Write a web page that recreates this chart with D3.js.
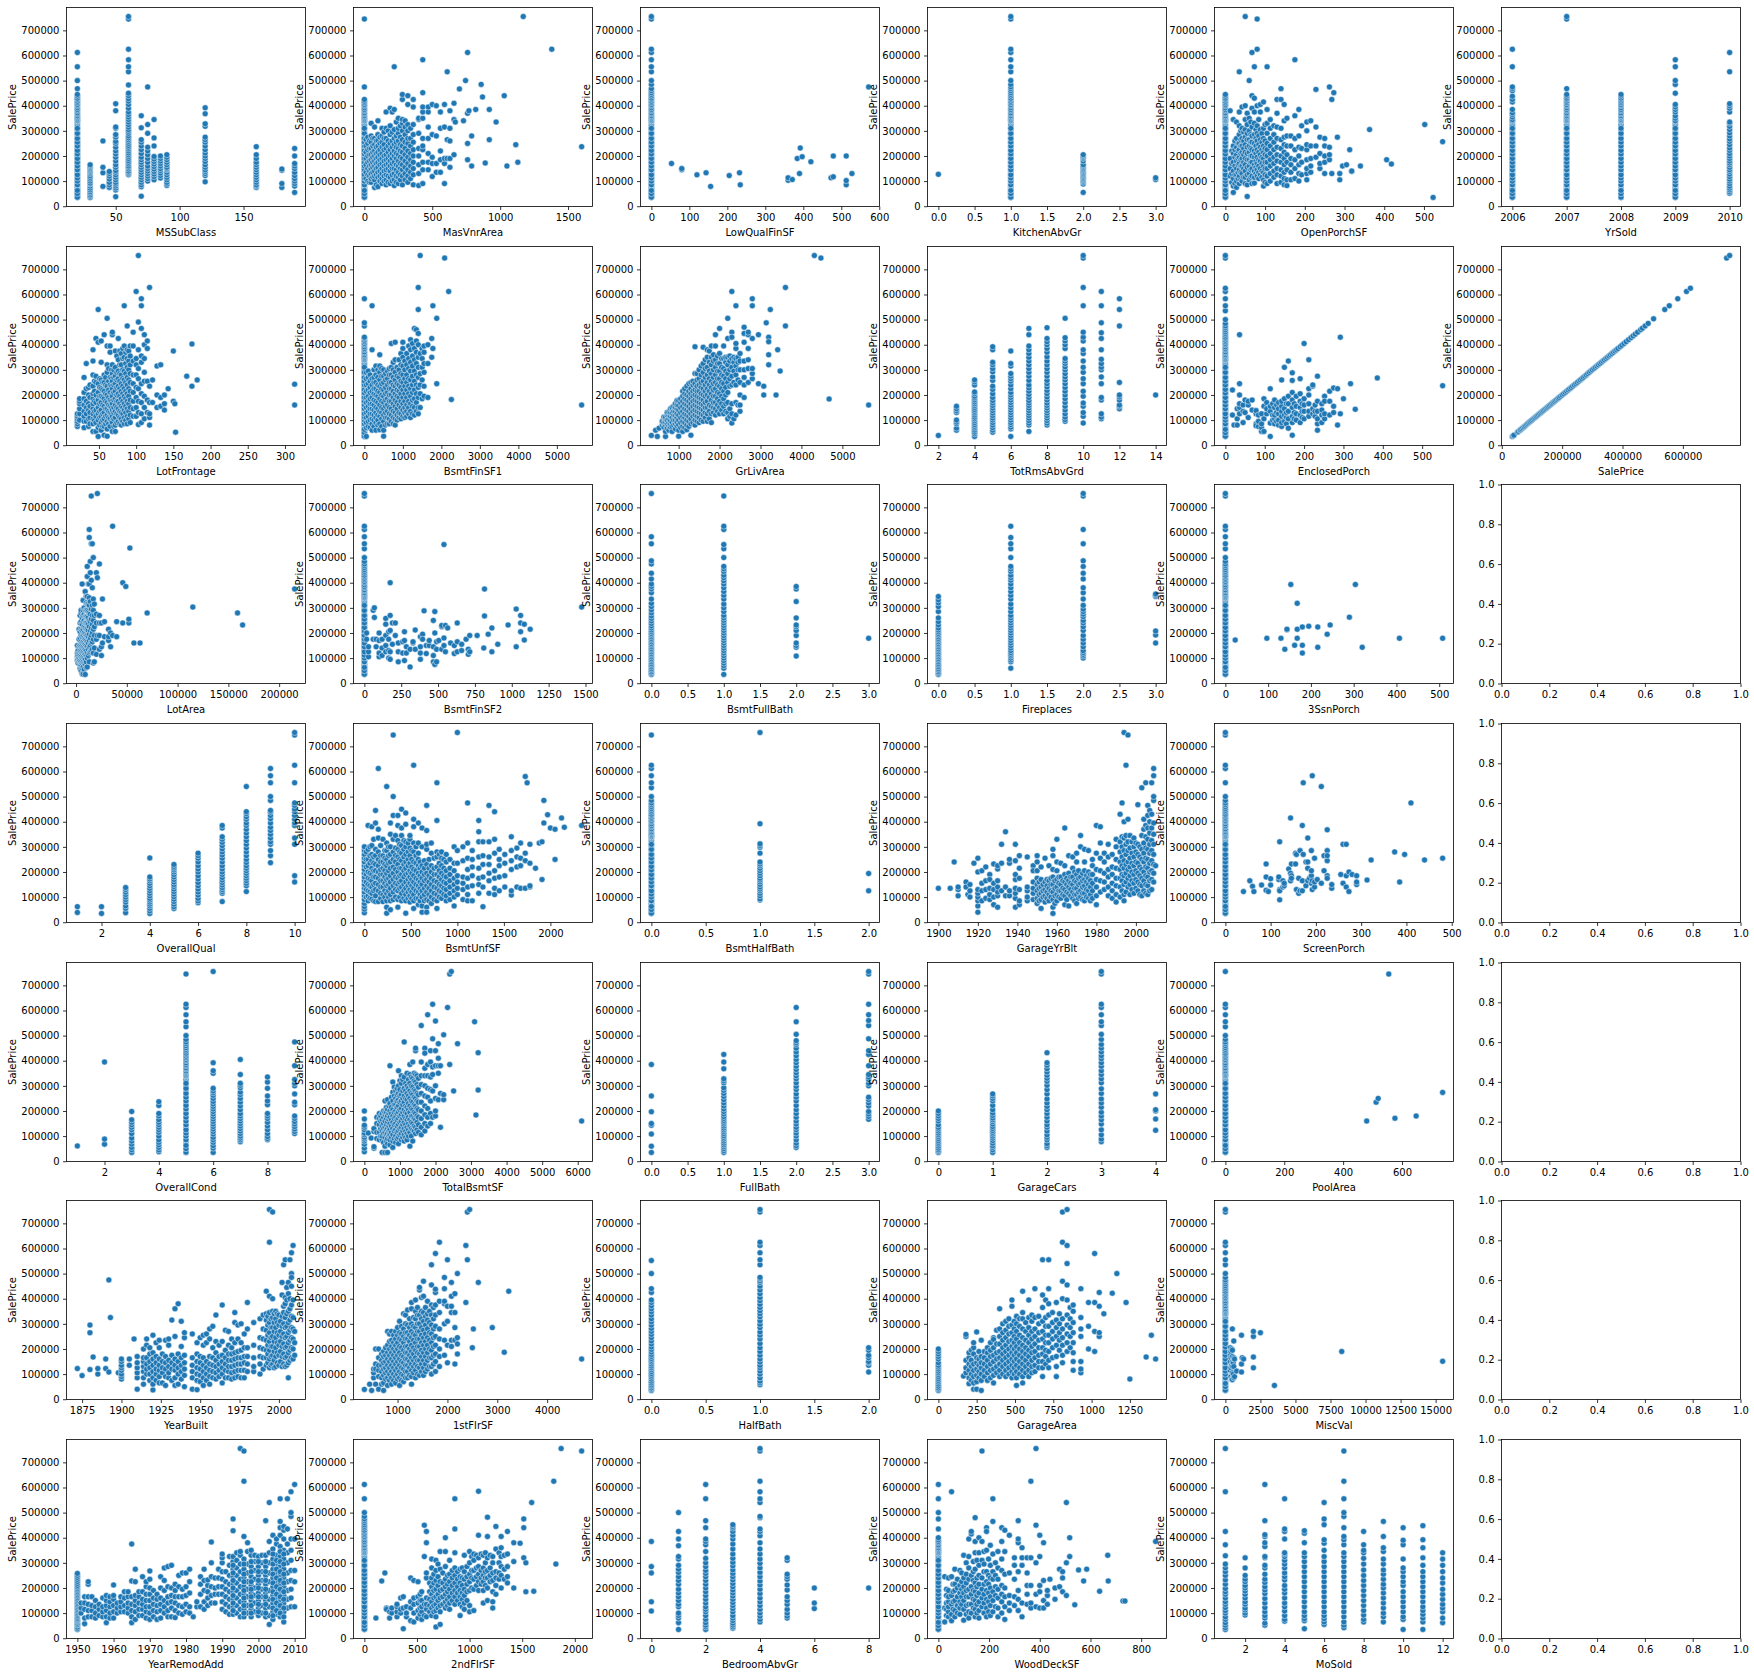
<!DOCTYPE html>
<html><head><meta charset="utf-8">
<script src="https://cdn.jsdelivr.net/npm/d3@7"></script>
<style>html,body{margin:0;background:#fff}svg{display:block}text{font-family:"DejaVu Sans",sans-serif;font-size:10px;fill:#000}</style>
</head><body><script>
// All SalePrice values are in thousands; each row is [x, price, price, ...]
const S=[35,38,44,52,55,60,66,70,74,78,84,90,96,102,108,114,120,126,132,138,144,150,156,162,168,174,180,186,192,198,204,210,218,226,234,242,250,258,266,275,285,295,305,315,325,335,340,36,50,63,85,100,112,125,145,160,175,190,208,222,240,255,270,290,310,340];
const T=[345,350,355,360,367,372,380,385,392,400,405,412,418,425,430,438,445,452,460,468,475,485,500];
const TOP=[535,555,583,612,625,745,755];

const MSSubClass=[[20,...S,...T.slice(0,17),468,500,555,612],[30,35,40,45,52,58,65,72,80,88,92,100,108,115,122,130,135,140,145,150,155,160,165],[40,79,133,155,260],[45,75,85,95,108,120,130,138],[50,38,65,72,80,88,95,105,115,125,135,142,155,165,180,195,208,220,235,250,258,275,285,310,315,380,408],[60,125,130,135,140,148,155,160,168,175,182,190,198,205,212,220,228,235,242,250,258,265,272,280,290,298,305,315,325,335,345,355,365,375,390,405,418,428,440,450,483,535,555,583,625,745,755],[70,40,78,85,95,105,115,125,135,145,155,165,175,185,195,210,225,240,255,265,312,360],[75,100,110,120,130,140,150,160,175,190,205,220,235,290,325,475],[80,105,118,128,138,148,158,168,178,188,198,240,272,345],[85,112,122,132,142,150,160,170,180,190,200],[90,82,88,95,105,115,125,135,145,150,155,165,175,185,195,205],[120,97,122,130,138,145,155,165,178,190,200,212,225,240,255,265,275,318,328,368,392],[160,75,80,85,95,105,115,125,135,145,155,165,175,190,205,237],[180,75,90,143,148],[190,55,80,90,100,110,122,135,150,160,170,200,230]];
const MasVnrArea=[[0,...S,...T.slice(0,14),475,745],[12,110,135,165,190,215,240,265],[25,100,125,150,175,200,225,250,275],[38,95,120,140,160,180,205,230,260],[50,95,110,130,150,165,185,205,230,255,280,330],[62,115,135,155,175,195,215,240,270],[75,75,105,120,140,160,180,200,220,245,270,315],[88,85,125,150,170,190,210,235,260],[100,78,115,135,155,175,195,215,240,262,285,340],[115,100,120,140,165,185,205,225,250,275],[130,90,110,130,150,170,190,210,235,255,280,310],[145,100,120,140,160,180,200,225,245,270,295],[160,85,105,125,145,165,185,205,230,270,310,375],[175,95,120,150,170,190,215,240,260,300],[190,90,115,140,160,180,200,225,250,285,320,390],[205,100,125,150,170,190,210,235,260,295,375],[220,82,105,130,150,175,200,220,245,270,305,385,555],[235,95,120,145,165,190,210,235,255,280,335],[250,90,115,135,160,180,205,230,260,290,310,350],[265,105,125,150,170,195,220,245,275,320],[280,85,120,145,165,190,215,240,265,300,330,345,425,445],[300,105,130,155,180,205,230,255,285,315,340],[320,95,120,145,170,195,220,250,270,300,325,405,440],[340,110,135,160,185,210,240,270,310],[360,85,125,150,175,200,225,255,285,325,395,425],[400,82,130,165,200,230,290,345,350],[430,90,145,175,225,240,270,350,375,395,452,583],[470,145,175,210,270,315,375,395],[500,118,170,195,285,405],[530,135,170,280,400],[560,135,185,220,310,375],[590,90,170,190,315,405],[610,190,265,535],[630,155,190,260,310,380],[660,205,345,410],[670,335],[700,467],[730,340],[745,500],[760,185,250,370,612],[770,380],[790,160,280],[820,385],[860,485],[870,435],[890,172],[920,265,385],[970,335],[1030,440],[1050,160],[1115,245],[1130,175],[1170,755],[1380,625],[1600,237]];
const LowQualFinSF=[[0,...S,...T.slice(0,20),485,500,...TOP],[53,170],[80,145,150],[120,125],[144,133],[156,79],[205,122],[232,133],[234,85],[360,103,113],[371,106],[384,190],[390,130],[392,232],[397,197],[420,177],[473,113],[479,117,200],[513,85,102,200],[528,130],[572,475]];
const KitchenAbvGr=[[0,127],[1,...S,...T,...TOP],[2,55,88,95,100,105,110,115,120,125,130,135,140,145,150,155,160,165,180,190,195,200,205],[3,106,113]];
const OpenPorchSF=[[0,...S,...T.slice(0,17)],[12,380,120,150,190],[16,95,130,170,220],[20,55,80,110,140,175,210,240,345],[24,90,125,160,195,225,260],[28,75,100,125,150,180,205,235,270,335],[32,110,135,165,190,220,250],[35,90,120,145,170,195,225,250,285,320,375,535],[39,105,135,160,185,210,240,265,300],[42,100,130,160,190,215,240,270,310,395],[46,115,150,175,205,230,260,295],[50,90,115,140,165,190,215,245,275,305,345,400,755],[55,39,85,125,155,185,210,235,265,290,325,370],[60,105,130,160,185,215,240,265,300,350,500],[64,115,145,175,200,230,255,285,335],[67,90,120,150,175,200,225,255,280,315,390,440,612],[73,92,115,140,165,195,220,250,285,330,375,430,555],[77,130,155,180,210,240,270,305],[80,120,145,170,195,225,260,290,320,400,625,745],[84,110,135,160,185,215,245,280,345],[88,125,150,180,205,235,265,305,375,405],[92,115,140,170,195,225,255,290],[96,80,105,135,160,190,215,240,270,310,415],[100,95,125,150,175,205,230,260,325],[105,90,120,150,175,200,225,250,290,330,385,555],[113,100,130,160,185,210,240,270,310,345],[122,115,140,170,195,225,255,285,320],[130,90,125,150,180,205,235,270,315,370,425],[140,95,120,145,175,200,230,265,310,468,425],[148,85,110,135,165,190,215,245,275,340,405],[155,82,105,145,175,205,240,280,350],[165,105,135,165,190,240,280],[175,110,150,185,225,270,360,583],[185,100,130,165,200,235,280,385],[192,125,175,230,320],[205,105,130,150,185,225,245,300,335],[215,135,160,190,240,340],[228,195,240,465,315],[238,150,170,210,275],[250,130,175,200,240,270],[262,185,205,235,475],[268,130,425],[273,452],[282,275],[288,105,130],[295,160],[305,165],[313,225],[318,138,140],[340,160],[363,305],[406,185],[418,168],[502,325],[523,35],[547,257]];
const YrSold=[[2006,...S,345,355,365,372,385,415,425,438,460,468,475,555,625],[2007,...S,...T.slice(0,17),468,745,755],[2008,...S,...T.slice(0,17)],[2009,...S,350,360,375,385,395,405,450,485,500,555,583],[2010,52,58,65,72,80,90,100,108,118,128,138,145,155,165,172,180,190,200,210,222,232,245,258,268,280,292,305,318,330,335,375,390,400,408,535,612]];
const LotFrontage=[[21,75,85,95,105,115,125],[24,100,125,145,165,175,185],[30,70,95,115,135,160,185,210,270],[33,95,125,150,175,225,325],[36,75,105,140,165,200,230],[38,85,110,130,155,190,240],[42,55,85,105,125,145,165,185,205,235,280,335,380],[44,100,135,175,215,255],[46,55,90,115,140,170,200,250,275,425],[49,35,70,100,125,150,180,210,245,540,410],[51,80,110,135,165,195,230,265],[53,60,90,115,140,170,195,225,260,330,415],[55,75,100,125,160,190,220,250],[57,40,75,105,130,155,185,215,250,280,440],[59,85,115,145,175,205,240,270],[61,36,65,95,120,145,170,200,235,290,320,395,505],[63,85,110,135,160,190,220,255,305],[65,75,105,130,155,180,210,240,270,370,395],[67,95,125,150,175,200,235,265,300],[68,55,90,115,140,165,195,225,255,285,320,440,450],[70,75,105,130,150,180,210,240,270,300],[72,55,80,110,135,160,185,215,245,275,310,375],[74,90,125,150,175,200,230,260,290,355],[76,95,120,145,175,205,235,265,295,340,425],[78,85,110,135,165,195,225,255,285,320,375],[80,80,105,130,155,185,215,245,280,320,365],[82,95,125,150,175,205,235,265,300,345,385],[84,85,110,140,165,195,225,260,295,350,395,555],[86,100,130,155,185,215,250,285,325,370],[88,85,115,145,175,205,240,270,310,345,380,475],[90,105,135,165,195,225,260,300,335,375],[92,90,120,150,180,215,250,285,320,355,395],[96,115,145,175,210,245,280,335,395,450],[100,115,150,190,230,280,320,345,612],[103,82,130,175,225,265,305,380,490,755],[107,90,125,170,205,245,330,355,555,583,465],[111,105,150,195,255,290,345,400,440],[115,130,180,255,385,415],[118,80,110,125,170,235,628],[122,170,260],[128,150,200,315],[133,155,190,320],[138,140,165,200],[143,225],[150,375,175],[152,165],[153,52],[168,275],[175,235,403],[182,260],[313,160,243]];
const BsmtFinSF1=[[0,...S,...T.slice(0,15),475,487,583],[50,35,70,90,110,130,150,170,190,215,240,265,290],[100,75,95,115,135,155,175,195,220,245,270,295],[150,70,100,125,145,165,185,210,230,255,280],[200,60,85,105,125,145,165,190,215,240,265,380,555],[250,75,100,120,140,160,180,205,225,250,270,300],[300,60,90,110,130,150,175,200,225,250,280,315],[350,80,100,120,145,170,195,215,240,270,300],[400,62,85,115,135,160,185,210,235,260,290,315,360],[450,75,105,130,150,175,200,225,245,275,305],[500,36,60,95,120,145,170,195,220,250,275,300],[550,80,110,130,155,180,205,230,260,285],[600,85,110,135,160,185,210,240,265,295],[650,85,105,125,150,175,200,225,250,280,305],[700,95,120,145,175,200,225,250,280,310,405],[750,85,110,135,165,190,215,240,270,300,330],[800,80,105,130,155,180,205,235,260,290,340,410],[850,100,120,145,170,195,220,245,275,310],[900,110,130,160,190,215,240,270,300,340],[950,105,125,150,175,205,230,255,285,320,365],[1000,115,140,165,190,220,250,280,315,350,385,410],[1050,110,130,150,175,205,235,265,300,335],[1100,115,135,160,190,220,250,280,320,365],[1150,125,150,175,205,235,265,305,345,395],[1200,110,135,165,195,225,260,295,330,380,420],[1250,125,155,180,210,240,275,315,355,405],[1300,120,150,185,220,255,295,340,385,465],[1350,135,170,205,240,280,325,370,415,460],[1400,125,150,190,230,270,310,350,400,445,540,628],[1450,150,205,240,285,365,755],[1500,185,260,310,345,385],[1550,195,235,290,325,370,395],[1650,190,325,400],[1750,350,425],[1780,385,555],[1880,245,505],[2085,745],[2190,612],[2260,182],[5644,160]];
const GrLivArea=[[334,39],[438,60],[480,35],[520,68],[600,80,95],[640,72,90,112],[680,35,55,80,92,105,112],[720,68,85,100,120,130],[760,60,78,90,105,120,132],[800,72,85,98,115,130,145],[840,55,75,92,110,128,145,150],[880,80,100,120,135,155],[920,65,85,100,118,135,150,165],[960,78,92,110,125,145,160,178],[1000,36,60,82,100,120,140,158,178],[1050,70,90,110,130,150,170,185],[1100,55,75,95,115,135,155,175,195,215],[1150,70,90,110,125,145,165,185,205,225],[1200,62,80,100,120,140,160,180,200,235],[1250,75,95,115,135,155,175,195,215,245],[1300,40,85,105,125,145,165,185,205,225,250],[1350,90,115,135,155,175,195,215,240,255],[1400,80,100,120,140,160,180,200,220,245,285,392],[1450,95,115,135,155,175,195,215,235,260,285],[1500,90,110,130,150,170,190,215,240,265,300],[1550,100,125,145,165,185,205,230,250,280,315],[1600,95,120,140,160,180,200,225,255,290,325,390],[1650,110,130,150,170,195,215,240,270,305,340],[1700,95,125,150,175,200,225,250,280,310,350,380],[1750,105,135,160,190,215,240,265,295,330,375],[1800,90,125,155,180,205,230,255,285,320,350,395],[1850,130,150,170,195,220,245,270,300,335,360],[1900,120,145,170,195,225,250,280,310,340,395,440],[1950,135,160,185,210,240,265,295,325,355],[2000,125,150,175,205,235,265,295,325,365,465],[2050,140,165,195,225,250,280,310,345],[2100,125,155,185,215,245,275,305,345,395],[2150,135,165,200,230,265,295,330,350],[2200,105,130,170,210,250,285,320,350,425,505],[2250,115,145,235,265,300,335,355],[2300,88,125,165,240,275,310,345,450,430,612],[2350,105,250,295,330,350],[2400,120,170,240,280,315,345,385,405,555],[2450,160,260,300,330,350],[2500,135,160,200,250,300,335,365],[2600,190,240,270,300,335,445,470,410],[2700,250,305,340,385,440,450],[2800,265,285,305,425,583,555],[2950,245,440],[3080,200,235],[3140,487],[3200,320,360,430,412],[3240,540],[3380,200],[3420,380],[3480,295],[3610,475,628],[4316,755],[4476,745],[4676,184],[5642,160]];
const TotRmsAbvGrd=[[2,39],[3,60,68,85,92,100,130,137,145,155],[4,35,45,52,60,68,75,82,90,98,105,112,120,128,135,142,150,158,165,172,180,188,195,205,212,240,252,260],[5,52,60,70,80,90,100,108,118,128,138,148,158,168,178,190,205,222,235,258,272,292,305,320,330,380,392],[6,35,65,72,82,90,100,110,120,130,140,150,160,170,180,190,200,210,225,240,255,265,275,285,315,325,375],[7,55,80,88,98,108,118,128,138,148,158,168,178,190,202,215,228,240,258,275,290,305,320,335,350,365,380,395,440,465],[8,80,88,98,108,118,128,138,148,158,168,180,192,205,218,232,245,258,275,290,305,320,335,352,370,385,400,412,425,468],[9,95,102,112,125,140,155,170,185,200,215,230,245,260,272,285,300,312,325,335,345,385,400,415,428,505],[10,88,115,130,155,168,195,215,245,265,290,310,335,365,380,415,430,450,555,628,745,755],[11,105,112,125,180,190,245,272,300,310,325,342,380,425,448,487,555,612],[12,145,155,160,180,192,200,250,475,540,583],[14,200]];
const EnclosedPorch=[[0,...S,...T,...TOP],[18,120,220],[22,80],[30,80,105,145],[36,125,150,165,200,245,440],[45,90,135,160],[50,130,180],[58,110,160,175],[68,140,180],[78,85,78,125,138],[84,75,120,95],[92,55,70,85,125],[98,55,105,155,185],[105,125,145,170],[114,35,88,135,225,155],[120,100,120,165],[125,85,105,120,150,180],[130,95,130,160],[135,80,100,125,145,170],[143,75,90,115,135,155,175,260],[150,95,120,145,185,310],[155,85,110,130,165],[160,68,105,135,165,195,335],[170,40,90,115,150,180,210,288,258],[175,105,130,165],[180,100,125,155,195],[190,90,120,150,175,205,265],[195,110,135,165],[200,105,135,160,185,405],[212,115,135,165,200,225,340],[222,125,145,235,240],[228,115,135,160],[234,60,85,105,135,175,275],[245,90,120,140,165],[252,105,125,195,175],[265,120,175,215],[275,130,155,228],[285,80,225],[292,125,430],[300,185],[318,245],[330,143],[386,268],[552,237]];
const SalePrice=[[35,35],[38,38],[40,40],[52,52],[55,55],[60,60],[62,62],[66,66],[70,70],[74,74],[78,78],[82,82],[86,86],[90,90],[94,94],[98,98],[102,102],[106,106],[110,110],[114,114],[118,118],[122,122],[126,126],[130,130],[134,134],[138,138],[142,142],[146,146],[150,150],[154,154],[158,158],[162,162],[166,166],[170,170],[174,174],[178,178],[182,182],[186,186],[190,190],[195,195],[200,200],[205,205],[210,210],[215,215],[220,220],[225,225],[230,230],[235,235],[240,240],[245,245],[250,250],[255,255],[260,260],[265,265],[270,270],[275,275],[280,280],[285,285],[290,290],[295,295],[300,300],[305,305],[310,310],[315,315],[320,320],[325,325],[330,330],[335,335],[340,340],[345,345],[350,350],[355,355],[360,360],[365,365],[370,370],[375,375],[380,380],[385,385],[392,392],[398,398],[405,405],[412,412],[420,420],[428,428],[435,435],[442,442],[450,450],[460,460],[466,466],[475,475],[485,485],[503,503],[540,540],[555,555],[583,583],[612,612],[625,625],[745,745],[755,755]];
const LotArea=[[1300,90,105,120,150],[2000,80,95,110,130],[3000,85,100,120,145,175,215],[4000,60,75,90,110,130,150,180,205,240,270],[5000,50,70,85,105,125,145,165,190,215,245,280,290],[6000,38,60,80,100,120,140,160,185,210,235,260,395],[7000,36,65,85,105,125,145,165,190,215,245,270,290,330],[8000,55,80,100,120,140,160,180,200,225,250,275,300],[9000,35,75,95,115,135,155,175,195,220,240,265,290,365],[10000,62,85,110,130,150,170,190,215,240,265,290,320,345],[11000,65,100,120,145,165,190,215,240,265,290,315,345,425,465],[12000,110,135,160,185,210,235,260,285,315,395],[13000,85,120,145,170,195,225,250,280,310,340,395,580,612],[14000,125,150,180,210,245,275,325,485,440],[15000,130,160,190,220,255,295,410,745,555],[16000,135,165,200,235,270,310,380,555],[17000,80,120,175,215,250,290,335,500],[18000,85,140,190,225,270,315],[20000,115,175,240,275,440],[21000,190,755,420],[23000,135,190,240,270,475],[25000,110,145,240],[26000,160,335],[28000,185,245],[32000,170,215,185],[34000,145,200],[36000,190,625],[40000,185,245],[46000,240,400],[49000,385],[52000,240,255],[53000,538],[57000,160],[63000,160],[70000,280],[115000,303],[159000,280],[164000,232],[215245,375]];
const BsmtFinSF2=[[0,...S,...T,...TOP],[15,175,200],[28,105,125,145],[60,175,290],[68,300,262],[80,145,175],[100,105,120,170,200],[120,110,140,175],[145,125,150,190,235,258],[165,130,100,175,205],[175,95,125,270,400,210],[190,155,240],[210,190,240],[230,85,125,160],[260,165,120],[272,90,170,205],[285,145,120],[310,65,135],[330,160,165],[345,135,212],[380,95,120,145,185],[395,195,175],[405,288],[420,118,150],[440,150,170],[468,85,110,145,250],[478,75,200,285],[490,135,85,165],[505,170],[525,135,225,230],[540,150,180,552],[550,230,125],[565,220],[585,160],[610,118,150],[630,125,240,165],[660,155,130],[690,175],[705,135,115],[715,190,125],[765,190],[815,375,268],[810,140],[840,195],[865,220,125],[905,155],[975,232],[1030,145,295],[1060,205,270,240],[1085,235,172],[1125,215],[1474,303]];
const BsmtFullBath=[[0,35,40,45,52,58,65,72,78,85,92,98,105,112,118,125,132,138,145,152,158,165,172,178,185,192,198,205,212,220,228,238,248,258,268,280,292,305,318,335,360,375,385,395,415,438,475,487,555,583,755],[1,35,60,70,80,90,100,110,120,130,140,150,160,170,180,190,200,210,220,230,240,250,260,270,285,300,315,335,350,365,380,395,408,420,430,445,455,465,500,535,552,612,625,745],[2,108,143,150,160,190,210,225,232,260,325,375,385],[3,179]];
const Fireplaces=[[0,35,40,45,52,58,65,72,78,85,92,98,105,112,118,125,132,138,145,152,158,165,172,178,185,192,198,205,212,220,232,245,260,285,305,320,332,345],[1,60,85,92,100,108,115,122,130,140,150,160,170,180,190,200,210,220,230,240,250,260,270,285,300,315,335,350,365,380,395,410,420,430,445,455,465,500,535,555,580,625],[2,100,108,115,122,130,145,160,175,190,210,225,240,250,265,275,285,295,310,335,360,380,415,438,465,487,555,612,745,755],[3,160,192,208,345,350,355]];
const ThreeSsnPorch=[[0,...S,...T,...TOP],[23,172],[97,179],[130,179],[144,213,215],[153,393],[162,151],[139,135],[168,318,215,179],[180,224,151,120],[195,227],[216,224,143],[238,195],[245,232],[290,263],[304,393],[320,143],[407,179],[508,179]];
const OverallQual=[[1,39,62],[2,35,62],[3,38,55,65,80,90,100,110,120,130,138],[4,35,45,55,65,72,80,88,95,105,115,125,135,145,155,165,172,180,256],[5,55,62,72,82,92,102,112,122,132,142,150,160,170,180,190,200,208,215,222,230],[6,78,85,95,108,120,132,145,158,172,185,200,212,225,240,255,265,275],[7,82,115,122,130,138,148,158,168,178,190,200,212,225,240,255,268,280,292,305,318,330,340,375,385],[8,122,145,155,165,175,185,195,205,215,225,238,250,265,280,295,310,325,340,355,370,385,395,410,420,432,440,540],[9,237,265,285,310,320,335,350,365,378,395,412,425,438,445,485,500,555,583,612],[10,160,185,310,335,385,395,410,425,440,450,465,475,555,625,745,755]];
const BsmtUnfSF=[[0,38,52,62,75,90,105,120,135,150,165,180,195,210,225,240,255,270,285,300],[20,100,130,160,190,220,250,280],[40,85,105,125,150,175,200,225,250,290,385],[60,95,120,145,170,195,235,265,300],[80,92,115,140,165,190,215,245,270,305,380],[100,85,125,150,180,205,235,260,330],[120,82,105,130,155,180,205,230,265,290,445,395],[150,82,125,150,175,200,225,250,280,335,612,370],[175,95,115,140,165,190,210,240,265,305],[200,82,110,140,165,190,215,240,265,330],[220,100,125,155,180,205,230,255,285],[240,36,60,85,115,145,170,195,225,250,285,315,540],[260,100,125,150,175,205,235,265,300],[280,50,85,110,135,160,185,215,240,270,300,350,395],[310,90,120,145,170,195,220,250,280,330,745,500,425],[335,100,130,155,180,210,240,265,295,345],[360,60,90,125,150,175,200,230,260,290,325,385,425],[380,100,135,160,185,215,250,280,310],[400,85,115,140,165,190,215,245,275,305,345,450,375],[425,95,125,150,180,205,230,260,290,325],[445,36,85,110,135,160,190,215,240,270,300,320,390,435],[470,95,120,145,170,195,225,250,280,315],[490,80,105,130,155,180,205,235,265,295,330,345],[510,95,120,145,170,195,220,250,285],[530,55,85,110,135,160,185,210,240,280,315,380,625,410],[555,95,125,150,175,205,235,265,300],[580,70,95,120,145,170,195,225,250,275,315,395],[600,85,110,135,160,185,215,240],[620,40,65,100,125,150,175,200,225,300,375],[645,85,110,135,165,190,215,245],[670,60,40,90,120,145,170,195,230,290,310,365,465],[695,85,110,135,160,185,215,250],[720,75,100,125,150,175,200,225,275,315],[750,90,115,140,165,190,215,255],[780,55,85,110,135,160,190,220,260,280,405,555],[805,100,125,150,180,205,235,270],[830,95,120,145,170,195,225,255,280],[855,110,135,160,185,215,250],[880,85,105,130,155,180,205,240,270],[920,90,115,140,165,190,215,250],[965,65,100,125,150,175,205,235,300],[1000,110,135,160,185,235,285,755],[1060,90,130,155,180,245,300],[1110,85,110,140,175,210,255,315,475],[1160,85,145,185,220,250,285],[1230,115,150,175,215,260,320,360,405],[1275,62,140,180,230,265,320],[1340,115,165,195,230,260,320,465],[1400,110,135,175,205,275,330,440],[1450,125,180,225,250,290],[1510,140,185,235,270],[1580,108,125,210,245,285,340],[1640,140,220,260,295],[1680,135,225,255,315],[1730,245,275,135,580],[1780,140,145,235,310],[1750,555],[1840,215],[1880,315],[1910,170,320],[1930,395,485],[1970,428],[2000,375],[2050,250,370],[2120,415],[2150,378],[2336,385]];
const BsmtHalfBath=[[0,...S,...T,535,555,583,612,625,745],[1,88,93,105,115,125,132,140,150,160,168,175,185,195,205,215,225,232,240,275,298,305,312,392,755],[2,125,194]];
const GarageYrBlt=[[1900,135],[1906,135],[1908,240],[1910,105,130,140],[1914,160,140],[1915,110],[1916,100,125,150],[1918,235],[1920,40,65,85,100,115,130,200,255],[1922,85,125,155,205],[1924,95,130,165,220],[1926,90,110,135,190,170],[1928,70,100,130,155,232],[1930,60,105,120,140,165,212,225],[1932,125,310,235],[1934,105,140,360],[1936,105,125,235,250],[1939,60,95,115,135,170,190,245,310],[1941,70,85,130,175,265,215],[1945,85,100,125,140,260],[1948,90,115,135,160,225,205],[1950,75,95,125,150,175,205,240,265],[1951,85,110,135,160],[1952,55,90,115,140,170,220],[1953,100,125,150],[1954,80,105,130,160,255],[1955,95,120,145,170],[1956,85,110,135,165,225],[1957,100,125,150,175],[1958,35,60,90,120,150,180,210,265,290],[1959,75,105,135,165],[1960,85,110,140,170,205,240,330],[1961,100,125,155,180],[1962,95,125,150,180,235],[1963,110,135,165],[1964,70,105,130,160,190,225,375],[1965,90,120,150,175],[1966,65,115,140,165,195,265],[1967,105,130,155,180],[1968,95,120,150,180,215,260],[1969,85,110,135,165,200],[1970,75,110,135,160,190,240,275],[1971,95,120,150,175,205],[1972,100,125,155,180,345,300],[1973,90,115,140,165,195],[1974,85,115,145,170,205,290,240],[1975,100,130,160,185],[1976,95,125,150,175,200,285],[1977,85,110,140,165,190],[1978,95,125,155,190,225,250],[1980,70,105,140,170,210,275,385],[1982,120,165,205,255,380,315],[1984,130,160,195,240,275],[1986,105,140,180,210,260,310],[1988,95,125,155,190,220,270],[1990,80,110,145,175,215,250,300,330],[1992,100,140,175,210,240,280,320,430],[1993,125,165,190,225,260,300,340,475],[1994,85,110,150,185,215,245,285,335,755,400],[1995,120,160,195,230,270,310,345,625],[1996,140,175,210,240,285,320,745,410],[1997,110,150,185,220,255,295,345],[1998,130,165,200,235,275,320],[1999,115,155,190,225,260,300,335],[2000,135,170,205,240,280,315],[2001,125,160,195,235,270,310,468],[2002,110,150,185,220,260,300],[2003,105,145,175,210,250,290,345,535],[2004,125,165,200,240,275,315,370,410],[2005,115,150,185,220,255,295,340,385,555],[2006,110,145,180,215,250,290,330,375,425,465],[2007,125,165,200,235,275,310,355,400,445],[2008,130,170,205,245,285,325,375,430,555],[2009,160,195,230,270,310,350,395,485,500,583,612],[2010,225]];
const ScreenPorch=[[0,...S,...T,555,612,625,745,755],[40,122],[54,165],[60,143],[63,122],[80,148],[90,127,180,232],[95,122],[100,148,173],[118,170,180],[120,89,130,125,320],[127,140,165],[130,145,155],[140,212],[144,415,195,165],[146,232,185,175],[155,232,275],[157,130,270],[162,115,175],[165,285,125],[170,125,165,385],[172,270,555],[178,145,240],[182,165,215,240,335],[186,175],[190,155,185,285,205],[192,130,165,583],[197,140,255,160],[203,170],[212,155,540],[218,265,205],[225,185,175,245,285,265,368],[235,135,150],[255,190],[260,155,310],[267,140,185,310],[273,122,200],[280,190],[290,150,160,185],[313,168],[322,248],[374,280],[385,160],[396,270],[410,475],[440,248],[480,255]];
const OverallCond=[[1,61],[2,68,88,395],[3,35,45,55,68,80,92,110,125,135,145,155,165,198],[4,38,45,55,65,75,85,100,115,125,135,145,155,165,180,190,222,237],[5,...S,...T,...TOP.slice(0,6)],[6,35,52,62,75,85,95,108,118,128,138,148,158,168,178,188,198,208,218,228,238,250,262,272,280,290,350,360,392,755],[7,78,85,92,100,110,120,130,140,150,160,170,180,190,205,220,235,250,265,275,292,302,310,345,405],[8,85,90,98,110,125,140,155,170,180,190,225,240,260,290,315,335],[9,110,118,128,138,148,158,170,180,225,235,268,300,310,325,380,475]];
const TotalBsmtSF=[[0,38,52,68,80,88,95,105,112,125,135,143,168,200],[110,112],[190,92],[270,52,58,118,130],[350,90,115,150,175],[420,85,115,145,170,190],[460,100,130,160,180],[500,35,85,100,120,140,165,190],[540,75,110,130,150,175,200],[580,35,60,95,115,135,160,185,195,240],[620,80,105,125,145,170,195,215],[650,35,70,90,110,130,155,180,205,245],[690,100,120,140,165,190,220],[720,65,85,105,125,150,175,200,230,380],[760,95,115,140,165,190,215,255],[800,55,80,105,130,155,180,205,240,275,315],[840,90,120,145,170,195,225,260,295],[880,75,100,125,150,175,200,225,250,280],[920,90,115,140,165,190,215,240,265,290],[960,70,95,120,145,170,195,220,245,270,300,360],[1000,105,130,155,180,205,235,260,285,320],[1040,85,110,135,160,185,210,240,265,310,340],[1080,95,120,145,170,195,225,250,280,325],[1120,80,105,130,155,180,205,235,260,290,335,475],[1160,95,120,145,170,195,220,250,280,310],[1200,85,110,135,165,190,215,245,270,300,350],[1240,100,125,150,175,205,230,260,290,325],[1280,60,115,140,165,195,220,250,280,310,345,385],[1320,100,130,155,180,210,240,270,300,335],[1360,80,125,150,180,205,235,265,295,330,395],[1400,120,140,170,195,225,255,285,320,350],[1440,110,135,165,190,220,250,280,315,345,440,450],[1480,125,155,180,210,240,270,305,340],[1520,115,145,175,205,235,265,295,330],[1600,105,135,170,200,235,270,305,340,395,540],[1700,120,150,185,220,260,300,340,370,450,430],[1780,140,175,210,255,290,340,385,583],[1860,150,190,240,285,335,395,440],[1920,175,280,345,375,487,625],[2000,180,200,250,300,380,440,558],[2080,245,350,380,410,468],[2140,135,270,380],[2230,245,265,503],[2340,612],[2400,385,745],[2445,755],[2510,280],[2620,468],[3100,555],[3138,184],[3200,283,432],[6110,160]];
const FullBath=[[0,35,60,108,143,150,197,260,385],[1,35,42,50,58,65,72,80,88,95,102,110,118,125,132,140,148,155,162,170,178,188,198,208,220,232,245,258,270,282,292,312,320,328,368,395,425],[2,55,62,72,85,100,112,125,135,148,160,175,190,205,222,240,255,268,285,298,312,328,340,352,365,378,392,405,420,435,450,465,472,480,505,555,612],[3,167,178,188,198,220,232,245,255,300,310,325,335,345,380,425,440,487,540,560,583,625,745,755]];
const GarageCars=[[0,35,40,45,52,60,68,75,82,90,98,105,112,120,128,135,145,160,170,180,190,200],[1,35,45,55,62,72,82,92,100,108,115,122,130,138,148,158,165,172,182,192,205,222,240,250,260,268],[2,55,62,70,85,95,105,120,135,145,160,175,190,205,218,232,248,268,285,302,318,330,342,355,368,382,392,432],[3,78,88,105,125,148,165,180,195,215,232,248,270,288,312,328,345,360,378,392,408,420,435,450,465,485,505,540,555,583,612,625,745,755],[4,123,168,200,205,268]];
const PoolArea=[[0,...S,...T,535,555,583,612,625,755],[480,160],[512,235],[519,250],[555,745],[576,171],[648,180],[738,274]];
const YearBuilt=[[1872,122],[1875,94],[1880,118,265,295],[1882,168],[1885,100,122],[1890,122,160],[1892,108,475],[1893,325],[1898,105],[1900,80,90,100,115,125,135,150,160],[1905,135,160],[1908,240],[1910,40,85,105,125,145,170],[1914,60,85,110,130,150,200,165],[1916,100,120,140,165,215,240],[1918,75,100,125,150,180,205],[1920,37,60,85,110,135,160,185,255],[1922,75,100,120,145,170,225],[1924,65,90,115,135,160,205,235],[1926,65,105,125,150,180],[1928,55,90,120,145,170,235],[1930,85,105,130,155,215,240],[1932,75,120,145,175,315],[1934,55,85,115,135,160,250,360],[1936,60,100,125,150,180,380],[1938,80,110,135,165,210,310],[1940,50,95,120,145,175,245,265],[1945,40,85,110,135,165,260],[1948,38,75,100,125,150,180,225],[1950,70,95,120,145,170,245],[1952,55,85,110,135,165,215,255],[1954,75,100,125,150,225,260],[1956,60,90,115,140,170,240,280],[1958,85,110,135,165,205,290],[1960,80,105,130,155,185,230,335],[1962,90,115,140,170,215],[1964,65,100,125,150,175,230,375],[1966,85,115,140,165,195,275],[1968,85,110,130,155,180,215,270],[1970,80,105,130,155,180,205,240],[1972,85,110,135,160,185,225,345,305],[1974,90,115,140,165,190,240,295],[1976,85,115,140,165,195,225,300],[1978,85,115,145,170,205,260],[1980,110,140,170,205,280,385],[1984,110,130,165,215,305],[1988,100,140,170,205,245,320],[1990,120,165,200,240,280,335],[1992,135,165,195,235,275,315,340,430],[1993,145,180,215,255,295,330],[1994,125,160,195,230,265,305,345,410,755,625],[1995,135,170,210,245,285,320],[1996,140,175,210,250,285,325,350,745,400],[1997,125,155,190,230,270,305,340],[1998,130,170,205,245,285,320,350],[1999,145,185,225,265,305,340],[2000,135,175,215,255,295,335],[2001,150,190,230,270,310],[2002,130,170,210,250,290,330,465,415],[2003,140,180,220,260,300,345,370,535],[2004,130,165,205,245,285,325,380,405,555],[2005,135,170,210,250,290,340,395,445],[2006,85,145,185,225,265,305,350,420,465],[2007,155,195,235,275,315,360,400,555],[2008,165,205,245,285,330,375,450,500,583,485],[2009,160,200,240,280,325,395,612],[2010,175,225,270]];
const FirstFlrSF=[[334,39],[440,60],[480,35],[520,85,105,120],[560,140,120,60,200],[620,40,90,115,135,165,200],[680,60,85,110,135,155,180],[720,35,65,95,120,145,170,190],[760,80,105,125,150,175,205],[800,55,85,110,135,160,185,215,270],[840,75,100,125,150,175,200,230,260],[880,60,85,110,135,160,185,210,235,270],[920,75,100,125,150,175,200,225,255],[960,65,90,115,140,165,190,215,240,270],[1000,80,100,125,150,175,200,225,255,285],[1040,55,85,110,135,160,185,210,240,265,310],[1080,75,100,125,150,175,205,235,260,290],[1120,70,95,120,145,170,195,225,250,280,340],[1160,85,110,135,160,185,210,240,265,300,335],[1200,85,110,135,160,185,210,240,265,295,355],[1240,95,125,150,175,200,230,255,285,320],[1280,60,90,115,140,165,190,215,245,270,300,360,385],[1320,105,130,155,180,205,235,260,290,325],[1360,85,115,140,165,195,225,255,285,320,350,395],[1400,100,130,155,185,210,240,270,300,335,365],[1440,95,125,155,180,210,240,270,300,335,435,445],[1480,110,140,170,195,225,255,285,320,350,405],[1520,95,125,155,185,215,245,275,310,345,410,470],[1560,110,140,170,200,230,260,295,330,365],[1600,120,155,185,215,245,280,315,340,390],[1640,130,165,200,235,265,305,350],[1680,100,130,165,195,225,260,295,335,375,455,535],[1720,140,175,210,245,280,320,365],[1760,110,150,180,215,250,290,335,375,425,580,438],[1840,130,170,200,240,280,345,390,625],[1940,175,235,300,380,440,485,390],[2000,145,215,310,370,555],[2080,210,235,370,410,345,465],[2150,140,235,285,420,345],[2200,180,220,245,500],[2370,385,612],[2400,555,745],[2445,755],[2500,205],[2520,280],[2620,465],[2900,285],[3140,187],[3230,430],[4692,160]];
const HalfBath=[[0,35,40,45,52,58,65,72,80,88,95,102,110,118,125,132,140,148,155,162,170,178,188,198,208,220,232,245,258,270,282,295,308,320,335,348,360,372,385,395,425,440,500,552],[1,58,65,72,85,100,112,125,135,148,160,175,190,205,222,240,255,268,285,298,312,328,340,352,365,378,392,405,420,435,450,465,472,480,485,535,555,583,612,625,745,755],[2,108,135,145,150,165,175,195,205]];
const GarageArea=[[0,35,40,45,52,60,68,75,82,90,98,105,112,120,128,135,145,160,170,180,190,200],[164,92],[180,105,125,155,250,258],[200,62,85,115,140,165,185],[215,75,100,130,155,195],[230,40,65,90,115,140,180,205,225],[250,40,70,95,120,145,165,268],[265,85,110,135,160,190],[280,35,75,100,125,145,170,235],[300,90,115,140,165,190],[320,75,105,130,155,185,205],[340,85,115,140,170,195,225],[360,65,95,120,150,175,205,245,238],[380,105,130,160,185,220,275],[400,90,115,140,165,190,220,250,280,360],[420,100,130,155,180,205,235,265,300],[440,90,115,140,165,190,215,245,275,310],[460,100,125,150,175,200,230,260,290,320],[480,85,110,135,160,185,210,235,265,295,370,395],[495,100,125,150,175,200,225,250,280,310],[510,55,85,110,135,160,185,210,240,270,300,330],[530,100,125,150,175,200,225,255,290,320],[550,65,90,115,140,165,190,215,245,280,320,345,430],[570,105,130,155,180,205,235,270,305],[590,90,115,140,170,195,225,255,285,325,395],[610,105,130,155,185,210,240,270,310,335],[630,110,135,165,190,220,250,280,325,440],[655,125,150,175,205,235,265,300,330],[680,90,125,150,180,205,240,270,310,365,415,555],[700,140,170,195,225,255,290,325,395],[720,125,155,190,225,255,290,335,380,440,555],[745,165,205,240,270,305,345],[770,90,130,170,215,250,285,315,385],[790,195,235,265,300,340],[810,145,175,215,245,280,320,400,470,625,745],[840,190,225,260,295,335,395,455,540,755,612],[860,205,250,285,320,365],[880,115,150,185,225,265,305,350,375],[930,105,120,150,250,280,325,440],[980,200,290,385],[1020,190,270,385,580],[1050,250,265,370,425],[1080,340],[1135,422],[1165,500],[1225,385],[1250,80],[1356,168],[1390,255],[1418,160]];
const MiscVal=[[0,...S,...T,535,555,583,612,625,745,755],[350,115,150,175,195,205],[400,90,125,165,190],[450,80,135,200],[500,78,105,130,150,170,195,280],[560,100,145],[600,85,130,160,165,232],[650,90,160],[800,112],[1150,108,140,255],[1200,165],[1300,160],[2000,125,168,250,270],[2500,265],[3500,55],[8300,190],[15500,151]];
const MoSold=[[1,35,42,52,62,75,85,100,110,122,135,145,160,175,185,198,215,232,250,265,280,295,328,372,425,583,755],[2,92,100,112,120,135,145,160,175,188,200,210,225,235,250,280,320],[3,52,60,80,90,105,122,140,158,178,192,205,222,235,255,280,290,320,325,365,380,405,412,468,612],[4,68,75,90,108,125,140,160,180,195,210,232,245,260,280,295,310,325,335,340,395,425,435,555],[5,38,70,78,90,105,125,145,165,185,205,225,245,265,285,305,325,340,380,418,428],[6,55,65,78,90,105,125,145,165,185,205,225,245,265,285,305,325,350,378,392,452,475,540],[7,42,52,65,85,105,125,145,165,185,205,225,245,265,285,305,325,340,372,392,405,440,485,500,555,625,745],[8,65,75,92,110,130,150,170,190,210,230,250,272,295,318,340,350,372,425],[9,65,85,100,120,140,160,180,200,215,235,255,272,295,315,345,360,405,465],[10,35,75,85,105,125,145,165,185,210,225,245,265,280,315,372,390,440],[11,35,65,80,95,110,125,145,165,185,205,225,245,265,290,320,360,392,448],[12,62,80,105,120,135,155,175,195,220,240,265,290,315,340]];
const YearRemodAdd=[[1950,35,38,44,52,55,60,66,70,74,78,84,90,96,102,108,114,120,126,132,138,144,150,156,162,168,174,180,186,192,198,204,210,218,226,234,242,250,258],[1951,100,120,140],[1952,58,80,115,140,165],[1953,85,110,135,165,215,225],[1954,85,110,130,165],[1955,80,100,125,150],[1956,90,115,135],[1957,85,105,125,160],[1958,62,85,110,130,150,170],[1959,80,100,125,145,165],[1960,80,105,130,155,170,212],[1961,100,120,140],[1962,105,125,145,165],[1963,105,130,160,185],[1964,100,120,140,165,185],[1965,62,85,110,135,165,228,375],[1966,75,105,130,150,170,225,275],[1967,90,115,140,165,185],[1968,90,115,135,155,185,245],[1969,80,105,125,150,175,205,225],[1970,75,100,125,150,175,200,235,268],[1971,85,110,135,160,190],[1972,75,105,130,155,175],[1973,80,110,135,160,200,245],[1974,100,125,150,190,230,280],[1975,85,110,140,165,205,285],[1976,85,120,145,170,200,290],[1977,82,110,140,165,190,215],[1978,100,130,165,205,250],[1979,95,125,165,195,260],[1980,105,135,170,205,260],[1981,100,125,180,225,275],[1982,85],[1983,125,145],[1984,125,175,215,245],[1985,115,145,190,230,275],[1986,130,160,185,210,232],[1987,140,170,205,245,300,383],[1988,140,175,200,240],[1989,175,205,240,275],[1990,115,145,175,205,235,265,300,320,335],[1991,105,135,165,195,225,265],[1992,95,125,155,185,215,250,290,325],[1993,95,125,155,185,215,245,275,305,325,428,475],[1994,100,130,160,190,220,250,280,310,340],[1995,85,115,145,175,205,235,265,295,330,345,755],[1996,85,115,145,175,205,240,275,315,405,625,745],[1997,100,130,165,195,225,260,295,380,345],[1998,85,115,150,180,210,245,285,330,350],[1999,105,140,170,200,235,270,305,330],[2000,90,120,150,180,215,250,285,325],[2001,100,130,165,195,230,265,300,330],[2002,85,120,150,180,215,250,285,330,468],[2003,55,90,125,155,190,225,260,300,340,385,540],[2004,75,105,140,170,205,240,275,315,355,410],[2005,95,125,160,190,225,260,295,330,375,395],[2006,85,115,150,180,215,250,285,325,365,410,440,465,555],[2007,65,105,140,170,205,240,275,315,350,395,430,445],[2008,120,155,190,225,260,300,340,375,435,555],[2009,125,160,195,230,270,310,350,395,485,500,583],[2010,125,225,270,395,612],[1993,110,140,170,200,230,260,290],[1996,100,130,160,190,225,255,295],[1998,100,130,165,195,225,265,305],[2000,105,135,165,200,230,265,305],[2002,100,135,165,195,230,265,305],[2004,90,120,155,185,220,255,295,335],[2005,110,140,175,205,240,275,310],[2006,100,130,165,195,230,265,305,345],[2007,85,120,155,185,220,255,295,335]];
const SecondFlrSF=[[0,...S,...T,555,612],[110,80],[165,228],[195,260],[210,120,115],[240,80,105],[260,100,120],[310,85,105,125,135],[345,100,115,160],[370,38,165,120],[400,85,125,100],[440,70,120,145,240],[470,65,100,135,160,230],[510,80,110,140,165,225],[530,95,120,150,175],[545,75,105,125,150,185],[570,325,450,90,135],[590,85,115,135,160,240,260,380,425],[620,105,130,155,185,220],[640,90,120,145,175,205,240,280,315],[660,105,130,160,190,220,255],[680,45,85,110,135,165,195,230,270,310],[700,120,150,175,210,245,295],[720,55,105,130,160,190,225,275,345],[745,135,165,195,220,260],[770,120,145,175,205,235,285,345,400],[790,130,155,185,215,250],[810,115,140,165,195,225,255,310],[835,150,180,210,240,270],[860,135,165,190,220,250,280,340,435,555],[885,150,180,205,235,265],[910,90,135,165,190,220,245,275],[930,125,155,180,210,240,280],[950,115,140,170,195,235,265,330],[975,150,185,215,245,285],[1000,105,130,190,225,255,300,345],[1020,200,240,270,325],[1040,110,195,235,270,310,335],[1065,210,245,280,330],[1085,190,225,255,285,320,410,585],[1110,215,240,270,335],[1130,140,190,225,250,280,330],[1150,210,240,265,300,340],[1170,150,200,240,270,320,405,482],[1195,225,250,280,330],[1220,120,145,185,230,260,300,325],[1250,175,210,240,265,355,445],[1280,235,260,300,340],[1300,200,250,285,325,360,405],[1330,275,235,330],[1360,220,245,285,335,425],[1420,305,380,200],[1480,378],[1515,320,475,440],[1535,185,300],[1590,540],[1610,187],[1800,625],[1820,295],[1870,755],[2065,745]];
const BedroomAbvGr=[[0,108,145,260,285,385],[1,35,62,80,90,100,125,135,150,165,180,195,215,230,245,262,275,290,315,325,368,395,425,500],[2,35,45,52,62,75,90,105,115,125,140,155,170,185,200,215,230,245,258,270,285,300,318,345,372,385,395,440,468,555,612],[3,40,45,52,60,70,80,90,105,118,130,142,155,168,180,192,205,218,232,245,258,272,288,302,318,335,355,375,395,410,425,438,445,452],[4,65,75,88,100,115,130,145,160,178,195,212,228,245,262,280,298,315,335,355,380,408,425,435,480,485,540,555,583,625,745,755],[5,80,88,100,115,135,150,165,192,212,235,245,255,310,320],[6,118,140,200],[8,200]];
const WoodDeckSF=[[0,...S,...T.slice(0,10),435,475,500,555,612],[25,65,120,245],[32,90,115,140,170,195],[40,85,105,125,145,165,190,240],[52,70,95,135,170,245,583],[58,115,145,185,215],[65,85,110,150,190,215,275],[75,100,130,165,200,235],[85,95,120,145,180,210,270],[92,135,165,195,225,260],[100,72,115,150,180,205,240,330],[110,95,130,165,190,220,255,300],[120,80,105,135,165,195,235,280,325,395],[130,100,135,175,205,250,415,425],[138,120,155,190,230,265,305],[145,85,115,150,185,220,275,340,385,480],[152,100,135,170,205,240,310],[160,80,110,145,180,215,250,290,340,400],[172,125,160,195,240,310,385,745],[180,100,140,175,215,265,295,345],[190,85,120,155,190,225,265,350,440,425],[198,105,145,180,215,250,315],[205,90,130,165,200,240,290,370],[215,105,150,185,235,265,335,555,465],[225,125,170,205,250,300],[235,85,120,160,195,235,280,345],[250,100,145,175,210,270,315,385,440],[262,75,125,165,200,255,345,430],[280,110,140,170,260,410],[300,130,165,235,290,320],[315,110,155,190,265,380,395,468],[330,85,140,290,360,320],[350,135,175,210,320,260],[365,120,140,210,320,625],[385,125,175,300,755,450],[400,120,185,210,325,410],[415,120,150,230,380],[430,135,170,190],[440,235],[460,200,155],[478,205,275],[490,185,240,265],[505,170,300,540],[518,325,400],[538,133],[553,272],[573,228],[585,275],[636,187],[668,330],[670,228],[728,148],[736,148],[857,385]];

const ticksHalf3=[0,.5,1,1.5,2,2.5,3], ticksHalf2=[0,.5,1,1.5,2], ticksUnit=[0,.2,.4,.6,.8,1];
const yTicks=[0,100000,200000,300000,400000,500000,600000,700000];
const columns=[
 [["MSSubClass",MSSubClass,[50,100,150]],["LotFrontage",LotFrontage,[50,100,150,200,250,300]],["LotArea",LotArea,[0,50000,100000,150000,200000]],["OverallQual",OverallQual,[2,4,6,8,10]],["OverallCond",OverallCond,[2,4,6,8]],["YearBuilt",YearBuilt,[1875,1900,1925,1950,1975,2000]],["YearRemodAdd",YearRemodAdd,[1950,1960,1970,1980,1990,2000,2010]]],
 [["MasVnrArea",MasVnrArea,[0,500,1000,1500]],["BsmtFinSF1",BsmtFinSF1,[0,1000,2000,3000,4000,5000]],["BsmtFinSF2",BsmtFinSF2,[0,250,500,750,1000,1250,1500]],["BsmtUnfSF",BsmtUnfSF,[0,500,1000,1500,2000]],["TotalBsmtSF",TotalBsmtSF,[0,1000,2000,3000,4000,5000,6000]],["1stFlrSF",FirstFlrSF,[1000,2000,3000,4000]],["2ndFlrSF",SecondFlrSF,[0,500,1000,1500,2000]]],
 [["LowQualFinSF",LowQualFinSF,[0,100,200,300,400,500,600]],["GrLivArea",GrLivArea,[1000,2000,3000,4000,5000]],["BsmtFullBath",BsmtFullBath,ticksHalf3,1],["BsmtHalfBath",BsmtHalfBath,ticksHalf2,1],["FullBath",FullBath,ticksHalf3,1],["HalfBath",HalfBath,ticksHalf2,1],["BedroomAbvGr",BedroomAbvGr,[0,2,4,6,8]]],
 [["KitchenAbvGr",KitchenAbvGr,ticksHalf3,1],["TotRmsAbvGrd",TotRmsAbvGrd,[2,4,6,8,10,12,14]],["Fireplaces",Fireplaces,ticksHalf3,1],["GarageYrBlt",GarageYrBlt,[1900,1920,1940,1960,1980,2000]],["GarageCars",GarageCars,[0,1,2,3,4]],["GarageArea",GarageArea,[0,250,500,750,1000,1250]],["WoodDeckSF",WoodDeckSF,[0,200,400,600,800]]],
 [["OpenPorchSF",OpenPorchSF,[0,100,200,300,400,500]],["EnclosedPorch",EnclosedPorch,[0,100,200,300,400,500]],["3SsnPorch",ThreeSsnPorch,[0,100,200,300,400,500]],["ScreenPorch",ScreenPorch,[0,100,200,300,400,500]],["PoolArea",PoolArea,[0,200,400,600]],["MiscVal",MiscVal,[0,2500,5000,7500,10000,12500,15000]],["MoSold",MoSold,[2,4,6,8,10,12]]],
 [["YrSold",YrSold,[2006,2007,2008,2009,2010]],["SalePrice",SalePrice,[0,200000,400000,600000],0,1000],null,null,null,null,null]
];

const lefts=[66,353,640,927,1214,1501], tops=[7,246,484,723,962,1200,1439], pw=239, ph=199;
const svg=d3.select("body").append("svg").attr("width",1754).attr("height",1676);

function axes(g,x,y,xt,yt,xf,yf){
  const ax=g.append("g").attr("transform",`translate(0,${ph})`).call(d3.axisBottom(x).tickValues(xt).tickFormat(xf).tickSize(3.5).tickPadding(3.5).tickSizeOuter(0));
  const ay=g.append("g").call(d3.axisLeft(y).tickValues(yt).tickFormat(yf).tickSize(3.5).tickPadding(3.5).tickSizeOuter(0));
  [ax,ay].forEach(a=>{a.attr("font-family",null).attr("font-size",null);a.select(".domain").remove();a.selectAll("line").attr("stroke","#000").attr("stroke-width",.8);});
}
function frame(g){g.append("rect").attr("x",0).attr("y",0).attr("width",pw).attr("height",ph).attr("fill","none").attr("stroke","#000").attr("stroke-width",.8);}

tops.forEach((top,r)=>lefts.forEach((left,c)=>{
  const spec=columns[c][r];
  const g=svg.append("g").attr("transform",`translate(${left+.5},${top+.5})`);
  if(!spec){
    const x=d3.scaleLinear().domain([0,1]).range([0,pw]), y=d3.scaleLinear().domain([0,1]).range([ph,0]);
    axes(g,x,y,ticksUnit,ticksUnit,d3.format(".1f"),d3.format(".1f")); frame(g); return;
  }
  const [name,rows,xt,isFloat,xMul=1]=spec;
  const pts=rows.flatMap(([xv,...ys])=>ys.map(v=>({x:xv*xMul,y:v*1000})));
  const [a,b]=d3.extent(pts,d=>d.x), m=(b-a)*.05;
  const x=d3.scaleLinear().domain([a-m,b+m]).range([0,pw]);
  const y=d3.scaleLinear().domain([-1105,791005]).range([ph,0]);
  g.selectAll("circle").data(pts).join("circle").attr("cx",d=>x(d.x)).attr("cy",d=>y(d.y)).attr("r",3).attr("fill","#1f77b4").attr("stroke","#fff").attr("stroke-width",.48);
  axes(g,x,y,xt,yTicks,d3.format(isFloat?".1f":"d"),d3.format("d")); frame(g);
  g.append("text").attr("x",pw/2).attr("y",ph+29).attr("text-anchor","middle").text(name);
  g.append("text").attr("transform",`translate(-51,${ph/2}) rotate(-90)`).attr("text-anchor","middle").text("SalePrice");
}));
</script></body></html>
